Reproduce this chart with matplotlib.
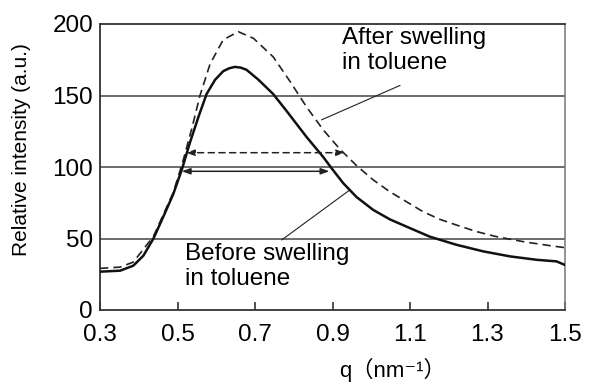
import matplotlib
matplotlib.use('Agg')
import matplotlib.pyplot as plt

plt.rcParams['font.family'] = ['Liberation Sans', 'Noto Sans CJK JP', 'DejaVu Sans']

# values
q_before = [0.300, 0.352, 0.386, 0.412, 0.438, 0.463, 0.489, 0.511, 0.532,
            0.554, 0.575, 0.597, 0.618, 0.633, 0.648, 0.663, 0.678, 0.709,
            0.747, 0.782, 0.816, 0.833, 0.876, 0.898, 0.928, 0.962, 1.005,
            1.048, 1.091, 1.151, 1.220, 1.289, 1.358, 1.427, 1.478, 1.500]
before = [26.8, 27.5, 31, 38, 50, 65, 81, 98, 117,
          135, 151, 161, 167, 169, 170, 169.5, 168, 161,
          151, 139, 127, 121, 107, 99, 88.6, 79, 70,
          63.4, 58.3, 51.3, 45.6, 41, 37.5, 35.1, 34, 31.5]

q_after = [0.300, 0.352, 0.386, 0.438, 0.489, 0.514, 0.537, 0.558, 0.584,
           0.618, 0.657, 0.696, 0.747, 0.790, 0.833, 0.876, 0.919, 0.962,
           1.005, 1.048, 1.091, 1.134, 1.177, 1.220, 1.272, 1.323, 1.392,
           1.461, 1.500]
after = [29.1, 30, 33.5, 51.5, 82, 104, 127, 150, 172,
         189, 194.6, 190, 177, 160, 142, 126, 112.5, 101,
         91, 82.7, 75.7, 68.7, 63.4, 59.4, 54.8, 51.3, 47.8,
         45, 43.6]

xticks = [0.3, 0.5, 0.7, 0.9, 1.1, 1.3, 1.5]
yticks = [0, 50, 100, 150, 200]
grid_y = [50, 100, 150]

# width arrows (start q, end q, level)
arrow_before = (0.511, 0.892, 97)
arrow_after = (0.522, 0.932, 110)

fig = plt.figure(figsize=(5.91, 3.85), dpi=100)
ax = fig.add_axes([100 / 591, 75 / 385, 465 / 591, 286 / 385])

for g in grid_y:
    ax.axhline(g, color='#444444', lw=1.1, zorder=1)

ax.plot(q_after, after, color='#222222', lw=1.2, ls=(0, (5, 3)), zorder=3)
ax.plot(q_before, before, color='#111111', lw=1.8, zorder=3)

head = '<|-|>,head_length=0.5,head_width=0.18'
x0, x1, yv = arrow_before
ax.annotate('', xy=(x0, yv), xytext=(x1, yv),
            arrowprops=dict(arrowstyle=head, color='#222222', lw=1.1,
                            shrinkA=0, shrinkB=0))
x0, x1, yv = arrow_after
ax.annotate('', xy=(x0, yv), xytext=(x1, yv),
            arrowprops=dict(arrowstyle=head, color='#222222', lw=1.1,
                            ls=(0, (4, 3)), shrinkA=0, shrinkB=0))

# labels with leader lines
ax.plot([0.872, 1.074], [133, 157], color='#222222', lw=0.8)
ax.plot([0.769, 0.945], [49, 84], color='#222222', lw=0.8)
ax.text(0.925, 198, 'After swelling\nin toluene', fontsize=17.5,
        ha='left', va='top')
ax.text(0.519, 47, 'Before swelling\nin toluene', fontsize=17.5,
        ha='left', va='top')

ax.set_xlim(0.3, 1.5)
ax.set_ylim(0, 200)
ax.set_xticks(xticks)
ax.set_xticklabels([f'{t:.1f}' for t in xticks])
ax.set_yticks(yticks)
ax.tick_params(axis='x', direction='in', length=6, width=1.2, pad=10,
               labelsize=17.5, color='#333333')
ax.tick_params(axis='y', length=0, pad=5, labelsize=17.5)

for side in ['left', 'bottom', 'top']:
    ax.spines[side].set_color('#333333')
    ax.spines[side].set_linewidth(1.3)
ax.spines['right'].set_color('#777777')
ax.spines['right'].set_linewidth(1.1)

fig.text(22 / 591, 1 - 150 / 385, 'Relative intensity (a.u.)', fontsize=15,
         rotation=90, ha='center', va='center')
fig.text(392 / 591, 1 - 370 / 385, 'q（nm⁻¹）', fontsize=16,
         ha='center', va='center')

fig.savefig('out.png', dpi=100)
